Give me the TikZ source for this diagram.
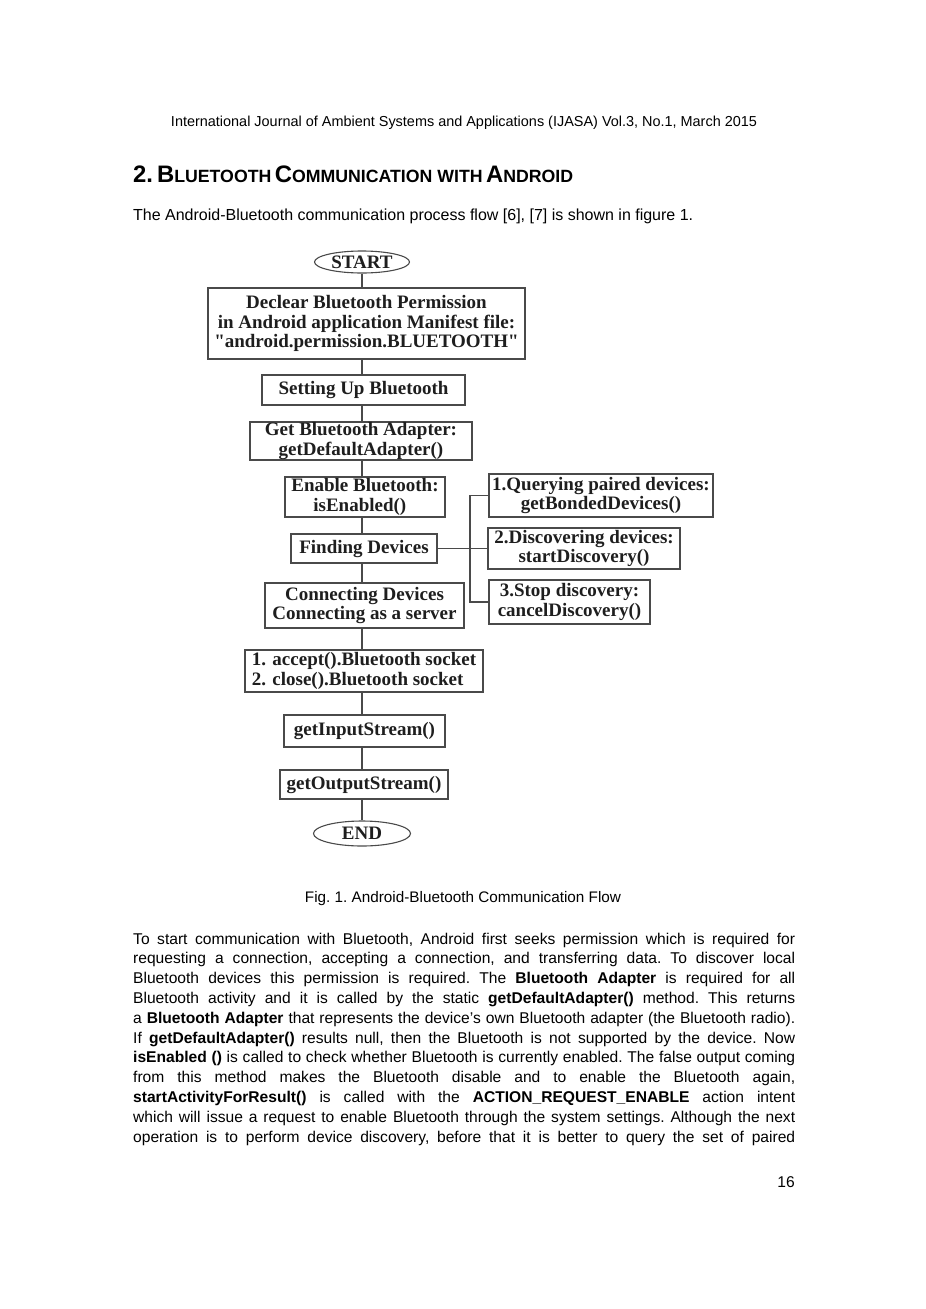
\documentclass[tikz,border=0pt]{standalone}
\usepackage{fontspec}
\setmainfont{Liberation Sans}
\newfontfamily\fcserif{Liberation Serif}
\usetikzlibrary{shapes.geometric}
\definecolor{linegray}{HTML}{4A4A4A}
\definecolor{txtdark}{HTML}{1E1E1E}
\newcommand{\fcfont}{\fcserif\bfseries\fontsize{19}{19.5}\selectfont}
\newcommand{\bodyfont}{\frenchspacing\fontsize{15.6}{19.8}\selectfont}
\newcommand{\hbig}[1]{{\fontsize{19.5}{20}\selectfont #1}}
\newcommand{\hsml}[1]{{\fontsize{14.5}{20}\selectfont #1}}
\newcommand{\jline}[1]{\makebox[662pt][s]{#1}}
\begin{document}
\begin{tikzpicture}[x=1pt,y=-1pt,
  fbox/.style={draw=linegray, line width=1.1pt, rectangle, inner sep=0pt, font=\fcfont, text=txtdark, align=center},
  fell/.style={draw=linegray, line width=1.1pt, ellipse, inner sep=0pt, font=\fcfont, text=txtdark},
  conn/.style={draw=linegray, line width=1.1pt},
  ptext/.style={inner sep=0pt, font=\bodyfont, anchor=base west}]
\fill[white] (0,0) rectangle (926,1309);
\useasboundingbox (0,0) rectangle (926,1309);

% page header and heading
\node[inner sep=0pt, anchor=base] (hdr) at (464,126) {\resizebox{586pt}{!}{\fontsize{14}{16}\selectfont International Journal of Ambient Systems and Applications (IJASA) Vol.3, No.1, March 2015}};
\node[inner sep=0pt, anchor=base west, font=\bfseries] (sec) at (133,182) {\resizebox{440pt}{!}{\hbig{2.\,B}\hsml{LUETOOTH} \hbig{C}\hsml{OMMUNICATION WITH} \hbig{A}\hsml{NDROID}}};
\node[inner sep=0pt, anchor=base west] (intro) at (133,220) {\resizebox{560pt}{!}{\frenchspacing\fontsize{14.6}{16}\selectfont The Android-Bluetooth communication process flow [6], [7] is shown in figure 1.}};

% flowchart
\node[fell, minimum width=95pt, minimum height=22pt] (start) at (362,262) {START};
\node[fbox, minimum width=317pt, minimum height=71pt] (decl) at (366.5,323.5) {Declear Bluetooth Permission\\in Android application Manifest file:\\"android.permission.BLUETOOTH"};
\node[fbox, minimum width=203pt, minimum height=30pt] (setup) at (363.5,390) {Setting Up Bluetooth};
\node[fbox, minimum width=222pt, minimum height=38pt] (adapter) at (361,441) {Get Bluetooth Adapter:\\getDefaultAdapter()};
\node[fbox, minimum width=160pt, minimum height=40pt, align=left] (enable) at (365,497) {Enable Bluetooth:\\\hspace*{22pt}isEnabled()};
\node[fbox, minimum width=146pt, minimum height=29pt] (finding) at (364,548.5) {Finding Devices};
\node[fbox, minimum width=199pt, minimum height=45pt] (connect) at (364.5,605.5) {Connecting Devices\\Connecting as a server};
\node[fbox, minimum width=238pt, minimum height=42pt, align=left] (accept) at (364,671) {1. accept().Bluetooth socket\\2. close().Bluetooth socket};
\node[fbox, minimum width=161pt, minimum height=32pt] (input) at (364.5,731) {getInputStream()};
\node[fbox, minimum width=168pt, minimum height=29pt] (output) at (364,784.5) {getOutputStream()};
\node[fell, minimum width=97pt, minimum height=25pt] (end) at (362,833.5) {END};

\node[fbox, minimum width=224pt, minimum height=43pt] (q1) at (601,495.5) {1.Querying paired devices:\\getBondedDevices()};
\node[fbox, minimum width=192pt, minimum height=41pt] (q2) at (584,548.5) {2.Discovering devices:\\startDiscovery()};
\node[fbox, minimum width=161pt, minimum height=44pt] (q3) at (569.5,602) {3.Stop discovery:\\cancelDiscovery()};
\coordinate (br) at (470,548.5);

\draw[conn] (start.south) -- (start.south |- decl.north);
\draw[conn] (start.south |- decl.south) -- (start.south |- setup.north);
\draw[conn] (start.south |- setup.south) -- (start.south |- adapter.north);
\draw[conn] (start.south |- adapter.south) -- (start.south |- enable.north);
\draw[conn] (start.south |- enable.south) -- (start.south |- finding.north);
\draw[conn] (start.south |- finding.south) -- (start.south |- connect.north);
\draw[conn] (start.south |- connect.south) -- (start.south |- accept.north);
\draw[conn] (start.south |- accept.south) -- (start.south |- input.north);
\draw[conn] (start.south |- input.south) -- (start.south |- output.north);
\draw[conn] (start.south |- output.south) -- (end.north);
\draw[conn] (finding.east) -- (q2.west);
\draw[conn] (q1.west) -- (q1.west -| br) -- (q3.west -| br) -- (q3.west);

% caption
\node[inner sep=0pt, anchor=base] (cap) at (463,902) {\resizebox{316pt}{!}{\frenchspacing\fontsize{14.6}{16}\selectfont Fig. 1. Android-Bluetooth Communication Flow}};

% body text
\node[ptext] (b1) at (133,944) {\jline{To start communication with Bluetooth, Android first seeks permission which is required for}};
\node[ptext] (b2) at (133,963.8) {\jline{requesting a connection, accepting a connection, and transferring data. To discover local}};
\node[ptext] (b3) at (133,983.6) {\jline{Bluetooth devices this permission is required. The \textbf{Bluetooth Adapter} is required for all}};
\node[ptext] (b4) at (133,1003.4) {\jline{Bluetooth activity and it is called by the static \textbf{getDefaultAdapter()} method. This returns}};
\node[ptext] (b5) at (133,1023.2) {\jline{a \textbf{Bluetooth Adapter} that represents the device's own Bluetooth adapter (the Bluetooth radio).}};
\node[ptext] (b6) at (133,1043) {\jline{If \textbf{getDefaultAdapter()} results null, then the Bluetooth is not supported by the device. Now}};
\node[ptext] (b7) at (133,1062.8) {\jline{\textbf{isEnabled ()} is called to check whether Bluetooth is currently enabled. The false output coming}};
\node[ptext] (b8) at (133,1082.6) {\jline{from this method makes the Bluetooth disable and to enable the Bluetooth again,}};
\node[ptext] (b9) at (133,1102.4) {\jline{\textbf{startActivityForResult()} is called with the \textbf{ACTION\_REQUEST\_ENABLE} action intent}};
\node[ptext] (b10) at (133,1122.2) {\jline{which will issue a request to enable Bluetooth through the system settings. Although the next}};
\node[ptext] (b11) at (133,1142) {\jline{operation is to perform device discovery, before that it is better to query the set of paired}};

\node[inner sep=0pt, anchor=base east, font=\bodyfont] (pg) at (795,1187) {16};
\end{tikzpicture}
\end{document}
